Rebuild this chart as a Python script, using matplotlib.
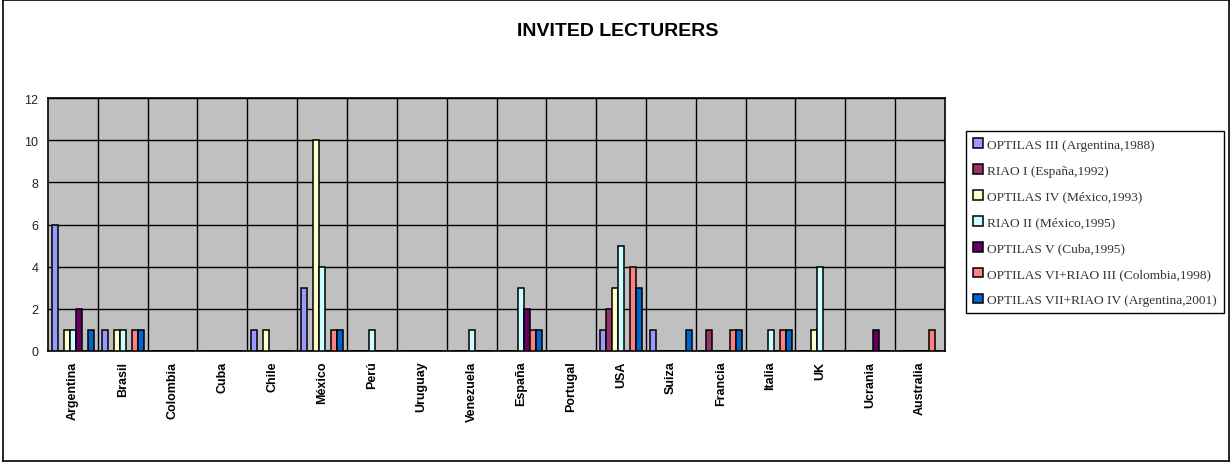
import matplotlib
matplotlib.use("Agg")
import matplotlib.pyplot as plt
from matplotlib.patches import Patch
from matplotlib.lines import Line2D
import numpy as np

countries = ["Argentina", "Brasil", "Colombia", "Cuba", "Chile", "México", "Perú",
             "Uruguay", "Venezuela", "España", "Portugal", "USA", "Suiza", "Francia",
             "Italia", "UK", "Ucrania", "Australia"]

series_names = [
    "OPTILAS III (Argentina,1988)",
    "RIAO I (España,1992)",
    "OPTILAS IV (México,1993)",
    "RIAO II (México,1995)",
    "OPTILAS V (Cuba,1995)",
    "OPTILAS VI+RIAO III (Colombia,1998)",
    "OPTILAS VII+RIAO IV (Argentina,2001)",
]

# lecturers per country, one list per meeting
optilas_iii = [6, 1, 0, 0, 1, 3, 0, 0, 0, 0, 0, 1, 1, 0, 0, 0, 0, 0]
riao_i      = [0, 0, 0, 0, 0, 0, 0, 0, 0, 0, 0, 2, 0, 1, 0, 0, 0, 0]
optilas_iv  = [1, 1, 0, 0, 1, 10, 0, 0, 0, 0, 0, 3, 0, 0, 0, 1, 0, 0]
riao_ii     = [1, 1, 0, 0, 0, 4, 1, 0, 1, 3, 0, 5, 0, 0, 1, 4, 0, 0]
optilas_v   = [2, 0, 0, 0, 0, 0, 0, 0, 0, 2, 0, 0, 0, 0, 0, 0, 1, 0]
optilas_vi  = [0, 1, 0, 0, 0, 1, 0, 0, 0, 1, 0, 4, 0, 1, 1, 0, 0, 1]
optilas_vii = [1, 1, 0, 0, 0, 1, 0, 0, 0, 1, 0, 3, 1, 1, 1, 0, 0, 0]

series = [optilas_iii, riao_i, optilas_iv, riao_ii, optilas_v, optilas_vi, optilas_vii]
colors = ["#9999FF", "#993366", "#FFFFCC", "#CCFFFF", "#660066", "#FF8080", "#0066CC"]

W, H = 1231, 464
fig = plt.figure(figsize=(W / 100, H / 100), dpi=100)
ax = fig.add_axes([48 / W, 1 - 352 / H, (945 - 48) / W, (352 - 99) / H])
ax.set_facecolor("#C0C0C0")

x = np.arange(len(countries))
bw = 0.12
for k, (vals, c) in enumerate(zip(series, colors)):
    ax.bar(x + (k - 3) * bw, vals, width=bw, color=c, edgecolor="black",
           linewidth=1.1, zorder=3)

ax.set_xlim(-0.5, len(countries) - 0.5)
ax.set_ylim(0, 12)
ax.set_yticks(range(0, 13, 2))
ax.set_xticks(x)
ax.set_xticklabels(countries, rotation=90, fontsize=9, fontweight="bold",
                   family="Liberation Sans")
ax.set_xticks(x[:-1] + 0.5, minor=True)
ax.tick_params(axis="x", which="both", length=0, pad=7)
ax.tick_params(axis="y", length=0, pad=7, labelsize=9, labelcolor="#222222")
for lab in ax.get_yticklabels():
    lab.set_family("Liberation Sans")

ax.grid(True, which="major", axis="y", color="black", linewidth=1, zorder=1)
ax.grid(True, which="minor", axis="x", color="black", linewidth=1, zorder=1)
ax.set_axisbelow(True)
for s in ax.spines.values():
    s.set_color("black")
    s.set_linewidth(1.2)

fig.text(618 / W, 1 - 32 / H, "INVITED LECTURERS", ha="center", va="center",
         fontsize=14, fontweight="bold", family="Liberation Sans")

handles = [Patch(facecolor=c, edgecolor="black", linewidth=1.1) for c in colors]
leg = fig.legend(handles, series_names, loc="upper left",
                 bbox_to_anchor=(966 / W, 1 - 132 / H),
                 bbox_transform=fig.transFigure, borderaxespad=0,
                 prop={"family": "Liberation Serif", "size": 9.6},
                 handlelength=0.75, handleheight=0.75, handletextpad=0.3,
                 labelspacing=1.0, borderpad=0.55, fancybox=False,
                 edgecolor="black", framealpha=1)
leg.get_frame().set_linewidth(1)
for t in leg.get_texts():
    t.set_color("#333333")

# outer chart border
for xs, ys in [([3, 3], [1, 462]), ([3, 1229], [1, 1]), ([3, 1229], [462, 462]),
               ([1229, 1229], [1, 462])]:
    fig.add_artist(Line2D([v / W for v in xs], [1 - v / H for v in ys],
                          color="black", linewidth=1.2))

fig.savefig("out.png", dpi=100)
